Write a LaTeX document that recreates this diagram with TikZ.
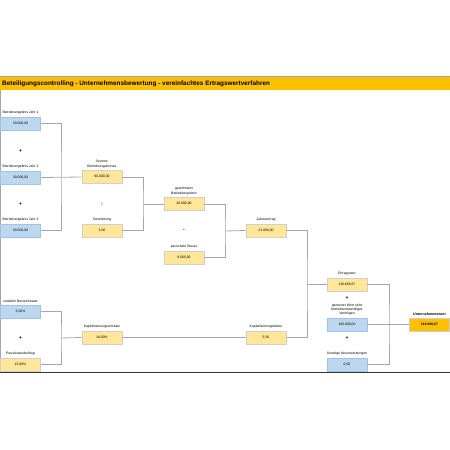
\documentclass[tikz,border=0pt]{standalone}
\usepackage{fontspec}
\setmainfont{Liberation Sans}
\usetikzlibrary{positioning}
\definecolor{hdrorange}{HTML}{FFC000}
\definecolor{inblue}{HTML}{BDD7EE}
\definecolor{inblueline}{HTML}{9DC3E6}
\definecolor{calcyellow}{HTML}{FFE699}
\definecolor{calcline}{HTML}{D0CECE}
\definecolor{wire}{HTML}{A6A6A6}
\tikzset{
  box/.style={minimum width=40pt, minimum height=13pt, inner sep=0pt, line width=0.8pt, font=\fontsize{3.4}{4}\selectfont},
  inputbox/.style={box, fill=inblue, draw=inblueline},
  calcbox/.style={box, fill=calcyellow, draw=calcline},
  resultbox/.style={box, fill=hdrorange, draw=calcline, font=\fontsize{3.4}{4}\selectfont\bfseries},
  lbl/.style={above=2pt, inner sep=0pt, align=center, font=\fontsize{3.4}{4.2}\selectfont},
  op/.style={inner sep=0pt, font=\fontsize{5}{5}\selectfont\bfseries},
  wires/.style={draw=wire, line width=0.8pt}
}
\begin{document}
\begin{tikzpicture}[x=1pt, y=-1pt]
	\useasboundingbox (0,0) rectangle (450,450);
	% Rahmen und Kopfzeile
	\fill[hdrorange] (0,77) rectangle (450,90);
	\draw[wire, line width=0.6pt] (0,76.5) -- (450,76.5);
	\draw[wire, line width=0.8pt] (0.5,90) -- (0.5,372);
	\draw[black!80, line width=0.8pt] (0,372.5) -- (450,372.5);
	\node[anchor=west, inner sep=0pt, font=\fontsize{6.4}{7}\selectfont\bfseries] (title) at (2,84) {Beteiligungscontrolling - Unternehmensbewertung - vereinfachtes Ertragswertverfahren};
	
	% Betriebsergebnisse
	\node[inputbox] (be1) at (20.5,123.5) {30.000,00};
	\node[lbl] at (be1.north) {Betriebsergebnis Jahr 1};
	\node[op] (p1) at (20.5,151) {+};
	\node[inputbox] (be2) at (20.5,177.5) {30.000,00};
	\node[lbl] at (be2.north) {Betriebsergebnis Jahr 2};
	\node[op] (p2) at (20.5,204) {+};
	\node[inputbox] (be3) at (20.5,230.5) {30.000,00};
	\node[lbl] at (be3.north) {Betriebsergebnis Jahr 3};
	
	% Gewichtung
	\node[calcbox] (summe) at (102,177) {90.000,00};
	\node[lbl] at (summe.north) {Summe\\Betriebsergebnisse};
	\node[op] (d1) at (102,204) {:};
	\node[calcbox] (gew) at (102,230.5) {3,00};
	\node[lbl] at (gew.north) {Gewichtung};
	
	\node[calcbox] (gbe) at (184,204) {30.000,00};
	\node[lbl] at (gbe.north) {gewichtetes\\Betriebsergebnis};
	\node[op] (m1) at (184,231) {-};
	\node[calcbox] (steuer) at (184,257.5) {9.000,00};
	\node[lbl] at (steuer.north) {pauschale Steuer};
	
	\node[calcbox] (jahr) at (266,230.5) {21.000,00};
	\node[lbl] at (jahr.north) {Jahresertrag};
	
	% Kapitalisierung
	\node[inputbox] (basis) at (20.5,311.5) {3,00\%};
	\node[lbl] at (basis.north) {variabler Basiszinssatz};
	\node[op] (p3) at (20.5,338) {+};
	\node[calcbox] (aufschlag) at (20.5,364.5) {15,00\%};
	\node[lbl] at (aufschlag.north) {Pauschalaufschlag};
	
	\node[calcbox] (kzins) at (102,337.5) {18,00\%};
	\node[lbl] at (kzins.north) {Kapitalisierungszinssatz};
	\node[calcbox] (kfaktor) at (266,337.5) {5,56};
	\node[lbl] at (kfaktor.north) {Kapitalisierungsfaktor};
	
	% Unternehmenswert
	\node[calcbox] (ertrag) at (347,284.5) {116.666,67};
	\node[lbl] at (ertrag.north) {Ertragswert};
	\node[op] (p4) at (347,298) {+};
	\node[inputbox] (gemein) at (347,324.5) {100.000,00};
	\node[lbl] at (gemein.north) {gemeiner Wert nicht\\betriebsnotwendiges\\Vermögen};
	\node[op] (p5) at (347,338) {+};
	\node[inputbox] (sonst) at (347,364.5) {0,00};
	\node[lbl] at (sonst.north) {Sonstige Neuerwerbungen};
	\node[resultbox] (uwert) at (429.5,324.5) {216.666,67};
	\node[lbl, font=\fontsize{3.6}{4.2}\selectfont\bfseries] at (uwert.north) {Unternehmenswert};
	
	% Verbindungen
	\coordinate (j1) at (61,177.5);
	\coordinate (j2) at (143,204);
	\coordinate (j3) at (225,231);
	\coordinate (j4) at (307,284.5);
	\coordinate (j5) at (61,338);
	\coordinate (j6) at (389,324.5);
	\draw[wires] (be1.east) -| (j1) |- (be3.east);
	\draw[wires] (be2.east) -- (summe.west);
	\draw[wires] (summe.east) -| (j2) |- (gew.east);
	\draw[wires] (j2) -- (gbe.west);
	\draw[wires] (gbe.east) -| (j3) |- (steuer.east);
	\draw[wires] (j3) -- (jahr.west);
	\draw[wires] (basis.east) -| (j5) |- (aufschlag.east);
	\draw[wires] (j5) -- (kzins.west);
	\draw[wires] (kzins.east) -- (kfaktor.west);
	\draw[wires] (jahr.east) -| (j4) |- (kfaktor.east);
	\draw[wires] (j4) -- (ertrag.west);
	\draw[wires] (ertrag.east) -| (j6) |- (sonst.east);
	\draw[wires] (gemein.east) -- (uwert.west);
\end{tikzpicture}
\end{document}
